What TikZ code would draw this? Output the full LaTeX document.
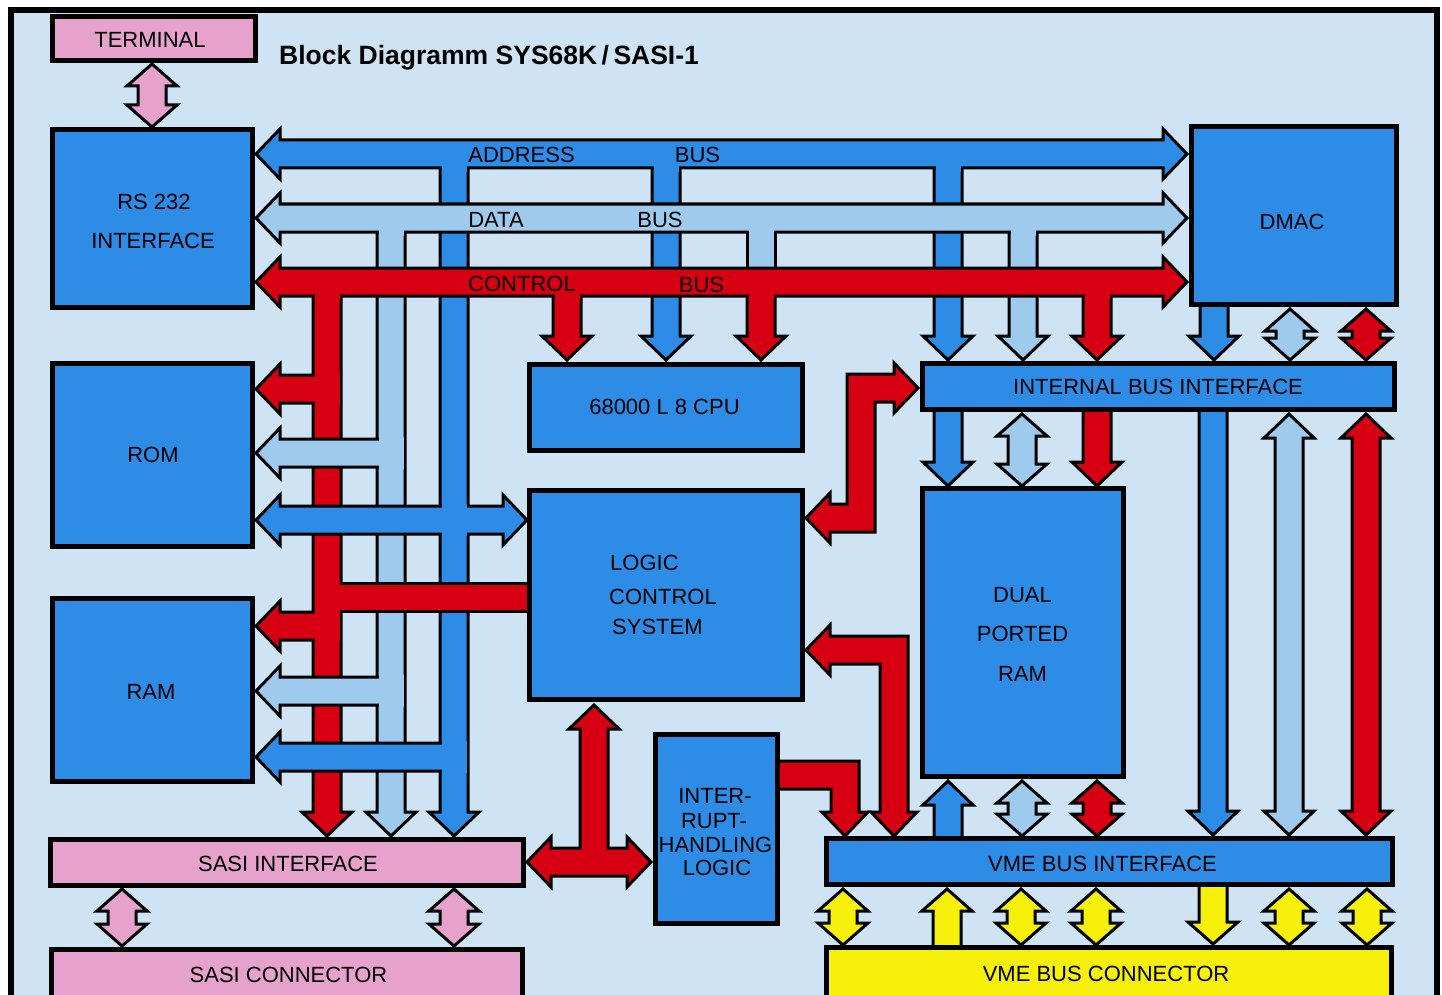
\documentclass[tikz,border=0pt]{standalone}
\usepackage{fontspec}
\setmainfont{Liberation Sans}
\definecolor{bgc}{RGB}{206,228,244}
\definecolor{boxb}{RGB}{44,140,230}
\definecolor{datab}{RGB}{158,202,238}
\definecolor{redc}{RGB}{214,0,18}
\definecolor{pinkc}{RGB}{230,162,204}
\definecolor{yelc}{RGB}{246,240,10}
\newcommand\ShH{14}
\newcommand\HdH{25}
\newcommand\HdL{24}
% vertical arrows: #1 colour, #2 x centre, #3 top y, #4 bottom y
\newcommand\VN[4]{\filldraw[busar=#1] ({#2-\ShH},#3) rectangle ({#2+\ShH},#4);}
\newcommand\VB[4]{\filldraw[busar=#1] ({#2-\ShH},#3) -- ({#2-\ShH},{#4-\HdL}) -- ({#2-\HdH},{#4-\HdL}) -- (#2,#4) -- ({#2+\HdH},{#4-\HdL}) -- ({#2+\ShH},{#4-\HdL}) -- ({#2+\ShH},#3) -- cycle;}
\newcommand\VT[4]{\filldraw[busar=#1] (#2,#3) -- ({#2+\HdH},{#3+\HdL}) -- ({#2+\ShH},{#3+\HdL}) -- ({#2+\ShH},#4) -- ({#2-\ShH},#4) -- ({#2-\ShH},{#3+\HdL}) -- ({#2-\HdH},{#3+\HdL}) -- cycle;}
\newcommand\VTB[4]{\filldraw[busar=#1] (#2,#3) -- ({#2+\HdH},{#3+\HdL}) -- ({#2+\ShH},{#3+\HdL}) -- ({#2+\ShH},{#4-\HdL}) -- ({#2+\HdH},{#4-\HdL}) -- (#2,#4) -- ({#2-\HdH},{#4-\HdL}) -- ({#2-\ShH},{#4-\HdL}) -- ({#2-\ShH},{#3+\HdL}) -- ({#2-\HdH},{#3+\HdL}) -- cycle;}
% horizontal arrows: #1 colour, #2 y centre, #3 left x, #4 right x
\newcommand\HN[4]{\filldraw[busar=#1] (#3,{#2-\ShH}) rectangle (#4,{#2+\ShH});}
\newcommand\HL[4]{\filldraw[busar=#1] (#3,#2) -- ({#3+\HdL},{#2-\HdH}) -- ({#3+\HdL},{#2-\ShH}) -- (#4,{#2-\ShH}) -- (#4,{#2+\ShH}) -- ({#3+\HdL},{#2+\ShH}) -- ({#3+\HdL},{#2+\HdH}) -- cycle;}
\newcommand\HLR[4]{\filldraw[busar=#1] (#3,#2) -- ({#3+\HdL},{#2-\HdH}) -- ({#3+\HdL},{#2-\ShH}) -- ({#4-\HdL},{#2-\ShH}) -- ({#4-\HdL},{#2-\HdH}) -- (#4,#2) -- ({#4-\HdL},{#2+\HdH}) -- ({#4-\HdL},{#2+\ShH}) -- ({#3+\HdL},{#2+\ShH}) -- ({#3+\HdL},{#2+\HdH}) -- cycle;}
% junction patch: #1 colour, #2 x centre, #3 y1, #4 y2
\newcommand\PV[4]{\fill[#1] ({#2-12.5},#3) rectangle ({#2+12.5},#4);}
\begin{document}
\begin{tikzpicture}[x=1pt,y=-1pt,
  busar/.style={draw=black,line width=3pt,line join=miter,fill=#1},
  blk/.style={draw=black,line width=5pt,line join=miter,fill=#1,inner sep=0pt,outer sep=0pt},
  lbl/.style={font=\fontsize{22}{24}\selectfont,inner sep=0pt,text height=15.75pt,text depth=0pt}]
\useasboundingbox (0,0) rectangle (1442,995);
\clip (0,0) rectangle (1442,995);
\fill[white] (0,0) rectangle (1442,995);
\filldraw[draw=black,line width=6pt,fill=bgc] (10.5,10.5) rectangle (1436.5,1020);
% ---- vertical bus branches
\VB{boxb}{454}{154}{836}
\VB{boxb}{666}{154}{360}
\VB{boxb}{948}{154}{360}
\VB{datab}{391}{218}{836}
\VN{datab}{761}{218}{282}
\VB{datab}{1023}{218}{360}
\VB{redc}{327}{282}{836}
\VB{redc}{567}{282}{360}
\VB{redc}{761}{282}{360}
\VB{redc}{1097}{282}{360}
% ---- horizontal buses
\HLR{boxb}{154}{256}{1187}
\HLR{datab}{218}{256}{1187}
\HLR{redc}{282}{256}{1187}
\HL{redc}{389}{256}{327}
\HL{datab}{453}{256}{391}
\HLR{boxb}{520}{256}{527}
\HN{redc}{597}{327}{530}
\HL{redc}{626}{256}{327}
\HL{datab}{691}{256}{391}
\HL{boxb}{757}{256}{454}
% ---- junction patches
\PV{boxb}{454}{160}{172}\PV{boxb}{666}{160}{172}\PV{boxb}{948}{160}{172}
\PV{datab}{391}{224}{236}\PV{datab}{761}{224}{236}\PV{datab}{1023}{224}{236}
\PV{redc}{327}{288}{300}\PV{redc}{567}{288}{300}\PV{redc}{761}{288}{300}\PV{redc}{1097}{288}{300}
\PV{redc}{327}{373}{405}
\PV{datab}{391}{437}{469}
\PV{boxb}{454}{504}{536}
\PV{redc}{327}{581}{642}
\PV{datab}{391}{675}{707}
\PV{boxb}{454}{741}{773}
% ---- red elbows
\filldraw[busar=redc] (806,518) -- (830,493) -- (830,504) -- (847,504) -- (847,374) -- (894,374) -- (894,363) -- (918,388) -- (894,413) -- (894,402) -- (875,402) -- (875,532) -- (830,532) -- (830,543) -- cycle;
\filldraw[busar=redc] (806,650) -- (830,625) -- (830,636) -- (908,636) -- (908,812) -- (917,812) -- (894,836) -- (871,812) -- (880,812) -- (880,664) -- (830,664) -- (830,675) -- cycle;
\filldraw[busar=redc] (778,761) -- (859,761) -- (859,812) -- (868,812) -- (845,836) -- (822,812) -- (831,812) -- (831,789) -- (778,789) -- cycle;
\filldraw[busar=redc] (594,705) -- (619,729) -- (608,729) -- (608,848) -- (627,848) -- (627,837) -- (651,862) -- (627,887) -- (627,876) -- (551,876) -- (551,887) -- (527,862) -- (551,837) -- (551,848) -- (580,848) -- (580,729) -- (569,729) -- cycle;
% ---- right side arrows
\VB{boxb}{1214}{300}{360}
\VB{boxb}{948}{405}{486}
\VB{redc}{1097}{405}{486}
\VT{boxb}{948}{781}{842}
\VB{boxb}{1213}{405}{835}
\VTB{datab}{1289}{414}{835}
\VTB{redc}{1366}{414}{835}
\renewcommand\HdL{22}
\VTB{datab}{1290}{309}{360}
\VTB{redc}{1366}{309}{360}
\VTB{datab}{1022}{414}{486}
\VTB{datab}{1022}{781}{836}
\VTB{redc}{1097}{781}{836}
\VTB{yelc}{843}{889}{945}
\VTB{yelc}{1021}{889}{945}
\VTB{yelc}{1096}{889}{945}
\VTB{yelc}{1289}{889}{945}
\VTB{yelc}{1367}{889}{945}
\VT{yelc}{947}{889}{950}
\VB{yelc}{1213}{880}{944}
\VTB{pinkc}{152}{64}{127}
\VTB{pinkc}{122}{889}{946}
\VTB{pinkc}{454}{889}{946}
% ---- boxes
\node[blk=pinkc,minimum width=203pt,minimum height=44pt] (term) at (154,38.5) {};
\node[blk=boxb,minimum width=200pt,minimum height=178pt] (rs) at (152.5,218.5) {};
\node[blk=boxb,minimum width=205pt,minimum height=178pt] (dmac) at (1294,215.5) {};
\node[blk=boxb,minimum width=200pt,minimum height=183pt] (rom) at (152.5,455) {};
\node[blk=boxb,minimum width=200pt,minimum height=183pt] (ram) at (152.5,690) {};
\node[blk=boxb,minimum width=273pt,minimum height=86pt] (cpu) at (666,407.5) {};
\node[blk=boxb,minimum width=273pt,minimum height=209pt] (lcs) at (666,595) {};
\node[blk=boxb,minimum width=472pt,minimum height=46pt] (ibi) at (1158.5,386.5) {};
\node[blk=boxb,minimum width=201pt,minimum height=288pt] (dpr) at (1023,632.5) {};
\node[blk=boxb,minimum width=122pt,minimum height=189pt] (ihl) at (716.5,829) {};
\node[blk=pinkc,minimum width=473pt,minimum height=46pt] (sasii) at (287,862.5) {};
\node[blk=pinkc,minimum width=471pt,minimum height=58pt] (sasic) at (287,978.5) {};
\node[blk=boxb,minimum width=566pt,minimum height=46pt] (vmei) at (1109.5,861.5) {};
\node[blk=yelc,minimum width=565pt,minimum height=60pt] (vmec) at (1109,977.5) {};
% ---- texts
\node[anchor=base west,inner sep=0pt,font=\fontsize{26.5}{28}\selectfont\bfseries] (title) at (279,65) {Block Diagramm SYS68K\,/\,SASI-1};
\node[lbl] (tterm) at (150,39.5) {TERMINAL};
\node[lbl] (trs1) at (154,201.5) {RS 232};
\node[lbl] (trs2) at (153,240.5) {INTERFACE};
\node[lbl] (tdmac) at (1292,221.5) {DMAC};
\node[lbl] (trom) at (153,455) {ROM};
\node[lbl] (tram) at (151,692) {RAM};
\node[lbl] (tcpu) at (664.5,407) {68000 L 8 CPU};
\node[lbl,anchor=west] (tl1) at (610,562.5) {LOGIC};
\node[lbl,anchor=west] (tl2) at (609,596.5) {CONTROL};
\node[lbl,anchor=west] (tl3) at (612,626.5) {SYSTEM};
\node[lbl] (tibi) at (1158,386.5) {INTERNAL BUS INTERFACE};
\node[lbl] (td1) at (1022.5,594.5) {DUAL};
\node[lbl] (td2) at (1022.5,633.5) {PORTED};
\node[lbl] (td3) at (1022.5,673.5) {RAM};
\node[lbl] (ti1) at (715,795.5) {INTER-};
\node[lbl] (ti2) at (714,820.5) {RUPT-};
\node[lbl] (ti3) at (715.5,844.5) {HANDLING};
\node[lbl] (ti4) at (717,867.5) {LOGIC};
\node[lbl] (tsi) at (288,863.5) {SASI INTERFACE};
\node[lbl] (tsc) at (288.5,975) {SASI CONNECTOR};
\node[lbl] (tvi) at (1102.5,864) {VME BUS INTERFACE};
\node[lbl] (tvc) at (1106,973.5) {VME BUS CONNECTOR};
\node[lbl] (tab1) at (521.5,155) {ADDRESS};
\node[lbl] (tab2) at (697.5,154.5) {BUS};
\node[lbl] (tdb1) at (496,219.5) {DATA};
\node[lbl] (tdb2) at (660,219.5) {BUS};
\node[lbl] (tcb1) at (522,283.5) {CONTROL};
\node[lbl] (tcb2) at (701.5,284.5) {BUS};
\end{tikzpicture}
\end{document}
